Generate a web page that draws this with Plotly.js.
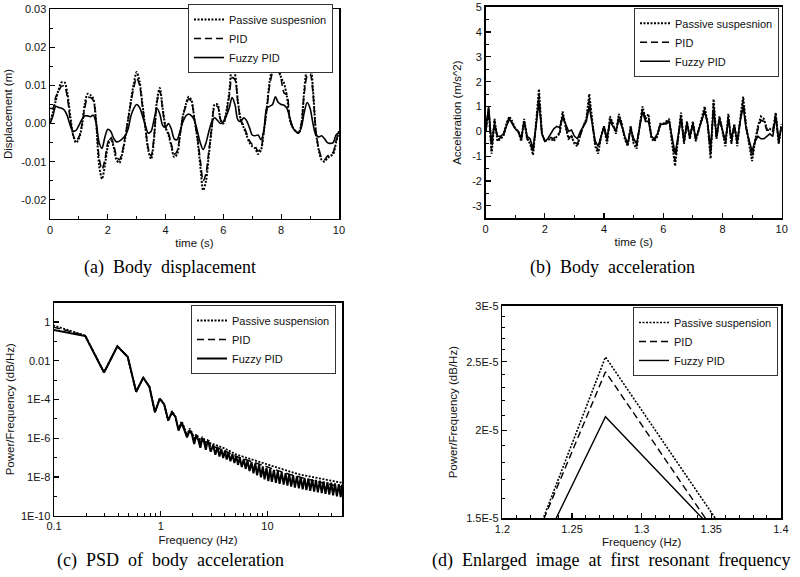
<!DOCTYPE html>
<html>
<head>
<meta charset="utf-8">
<script src="https://cdn.plot.ly/plotly-3.0.1.min.js"></script>
<style>html,body{margin:0;padding:0;background:#fff;}#chart{width:800px;height:577px;}</style>
</head>
<body>
<div id="chart"></div>
<script>
// ---------- data ----------
const seriesNames = ["Passive suspesnion", "PID", "Fuzzy PID"];
const seriesNamesPSD = ["Passive suspension", "PID", "Fuzzy PID"];

const timeS = [0,0.1,0.2,0.3,0.4,0.5,0.6,0.7,0.8,0.9,1,1.1,1.2,1.3,1.4,1.5,1.6,1.7,1.8,1.9,2,2.1,2.2,2.3,2.4,2.5,2.6,2.7,2.8,2.9,3,3.1,3.2,3.3,3.4,3.5,3.6,3.7,3.8,3.9,4,4.1,4.2,4.3,4.4,4.5,4.6,4.7,4.8,4.9,5,5.1,5.2,5.3,5.4,5.5,5.6,5.7,5.8,5.9,6,6.1,6.2,6.3,6.4,6.5,6.6,6.7,6.8,6.9,7,7.1,7.2,7.3,7.4,7.5,7.6,7.7,7.8,7.9,8,8.1,8.2,8.3,8.4,8.5,8.6,8.7,8.8,8.9,9,9.1,9.2,9.3,9.4,9.5,9.6,9.7,9.8,9.9,10];

const dispPassive = [0.000,0.003,0.006,0.009,0.0108,0.0108,0.008,0.002,-0.003,-0.005,
 -0.004,-0.001,0.005,0.0078,0.0075,0.0065,0.000,-0.011,-0.0145,-0.011,
 -0.006,-0.004,-0.006,-0.0095,-0.0103,-0.008,-0.004,0.001,0.006,0.0105,
 0.0135,0.011,0.005,-0.001,-0.007,-0.0093,-0.004,0.006,0.0093,0.004,
 -0.001,-0.003,-0.006,-0.0088,-0.008,-0.003,0.002,0.005,0.007,0.006,
 0.001,-0.004,-0.011,-0.0175,-0.015,-0.008,-0.001,0.005,0.005,0.001,
 0.000,0.003,0.008,0.0148,0.013,0.006,0.001,-0.001,-0.003,-0.005,
 -0.006,-0.0065,-0.008,-0.007,-0.002,0.004,0.011,0.015,0.0178,0.0155,
 0.012,0.0105,0.007,0.001,-0.001,-0.002,-0.0025,0.000,0.009,0.015,
 0.0165,0.009,-0.002,-0.007,-0.0095,-0.010,-0.009,-0.0085,-0.008,-0.005,
 -0.002];
const dispPID = [0.004,0.004,0.007,0.0085,0.0098,0.0098,0.007,0.001,-0.003,-0.0045,
 -0.0035,-0.0005,0.004,0.0068,0.0068,0.006,0.000,-0.009,-0.012,-0.0095,
 -0.005,-0.0035,-0.0055,-0.0085,-0.0095,-0.0075,-0.0035,0.001,0.0055,0.0095,
 0.012,0.010,0.0045,-0.001,-0.0065,-0.0085,-0.0035,0.0055,0.0085,0.0035,
 -0.001,-0.0025,-0.0055,-0.008,-0.0072,-0.0028,0.002,0.0045,0.0065,0.0055,
 0.001,-0.0035,-0.0095,-0.015,-0.013,-0.007,-0.001,0.0045,0.0045,0.001,
 0.000,0.0028,0.007,0.012,0.0115,0.0055,0.001,-0.0005,-0.0025,-0.0045,
 -0.0055,-0.006,-0.0072,-0.0065,-0.002,0.0035,0.010,0.0135,0.0155,0.014,
 0.0115,0.008,0.0075,0.001,-0.001,-0.002,-0.0025,0.000,0.008,0.0125,
 0.013,0.008,-0.002,-0.0065,-0.009,-0.0095,-0.0085,-0.008,-0.0075,-0.0045,
 -0.002];
const dispFuzzy = [0.000,0.002,0.0045,0.0042,0.004,0.0035,0.002,-0.0005,-0.002,-0.0018,
 -0.0005,0.001,0.002,0.002,0.0018,0.0022,0.000,-0.005,-0.0065,-0.0035,
 -0.0015,-0.002,-0.0038,-0.0048,-0.0046,-0.004,-0.0032,-0.0015,0.002,0.004,
 0.005,0.0042,0.002,-0.0005,-0.0025,-0.002,0.001,0.004,0.0025,-0.0005,
 -0.001,0.000,-0.0015,-0.004,-0.0042,-0.002,0.0005,0.002,0.0025,0.002,
 0.0008,-0.002,-0.005,-0.0068,-0.005,-0.002,0.0005,0.0015,0.0008,0.000,
 0.0005,0.002,0.004,0.0068,0.005,0.001,0.0005,0.0015,0.0008,-0.001,
 -0.003,-0.0032,-0.003,-0.0042,-0.002,0.004,0.0045,0.005,0.007,0.0055,
 0.005,0.0048,0.004,0.0015,-0.001,-0.002,-0.0025,-0.001,0.003,0.0055,
 0.004,0.000,-0.003,-0.0035,-0.0032,-0.004,-0.005,-0.0052,-0.005,-0.003,
 -0.0025];

const accPassive = [0.0,0.9,-0.9,0.5,-0.4,-0.3,-0.2,0.3,0.6,0.4,
 0.1,0.0,-0.4,0.5,-0.3,-0.5,-0.95,0.3,1.7,-0.1,
 -0.4,-0.35,-0.3,-0.4,-0.2,-0.1,0.8,0.2,-0.3,-0.2,
 -0.5,-0.6,-0.1,0.2,0.5,1.5,0.3,-0.6,-0.9,-0.2,
 0.2,-0.5,0.6,0.3,-0.1,0.7,0.3,-0.3,-0.6,0.2,
 -0.5,-0.7,0.2,1.0,0.5,0.7,-0.3,-0.4,-0.2,0.3,
 0.3,0.4,0.5,-0.5,-1.4,-0.3,0.75,-0.5,0.4,-0.3,
 0.4,-0.4,0.1,0.6,1.0,0.3,-1.1,1.3,-0.3,0.6,
 0.0,-0.6,0.7,-0.5,0.3,-0.6,0.5,1.4,0.2,-0.5,
 -1.2,-0.4,0.2,0.6,0.5,0.1,0.1,0.0,0.75,-0.5,
 0.3];
const accPID = [0.0,0.8,-0.8,0.45,-0.35,-0.25,-0.2,0.3,0.55,0.35,
 0.1,0.0,-0.35,0.45,-0.3,-0.45,-0.85,0.25,1.5,-0.1,
 -0.4,-0.35,-0.25,-0.3,-0.15,-0.05,0.7,0.2,-0.25,-0.2,
 -0.45,-0.5,-0.1,0.2,0.45,1.3,0.3,-0.5,-0.8,-0.2,
 0.2,-0.4,0.5,0.3,0.0,0.6,0.3,-0.3,-0.55,0.2,
 -0.45,-0.6,0.2,0.9,0.5,0.6,-0.25,-0.35,-0.15,0.3,
 0.3,0.35,0.45,-0.4,-1.2,-0.3,0.65,-0.45,0.35,-0.3,
 0.35,-0.35,0.1,0.55,0.9,0.3,-0.95,1.15,-0.3,0.55,
 0.0,-0.5,0.6,-0.45,0.3,-0.5,0.45,1.25,0.2,-0.45,
 -1.05,-0.4,0.1,0.45,0.4,0.05,0.05,0.0,0.7,-0.45,
 0.25];
const accFuzzy = [0.0,1.0,-0.5,0.3,-0.2,-0.2,-0.1,0.2,0.5,0.3,
 0.1,0.0,-0.3,0.4,-0.2,-0.3,-0.7,0.2,1.2,-0.1,
 -0.4,-0.3,-0.1,0.1,0.2,0.15,0.6,0.3,0.0,0.05,
 -0.2,-0.3,0.0,0.2,0.4,1.0,0.3,-0.4,-0.6,-0.2,
 0.2,-0.3,0.4,0.2,0.0,0.5,0.2,-0.2,-0.5,0.1,
 -0.3,-0.5,0.2,0.8,0.4,0.4,-0.2,-0.3,-0.1,0.25,
 0.3,0.3,0.4,-0.3,-0.9,-0.2,0.5,-0.4,0.3,-0.2,
 0.3,-0.3,0.1,0.5,0.8,0.3,-0.7,0.9,-0.2,0.5,
 0.0,-0.4,0.5,-0.3,0.2,-0.4,0.4,1.0,0.1,-0.4,
 -0.8,-0.4,-0.2,-0.3,-0.3,-0.2,-0.1,-0.2,0.6,-0.4,
 0.2];

// PSD (low-frequency bins, shared)
const psdFreqLow = [0.098,0.196,0.294,0.392,0.49,0.588,0.686,0.784,0.882,0.98,1.078,1.176,1.274,1.372,1.47,1.568,1.666,1.764,1.862,1.96,2.058,2.156,2.254,2.352,2.45,2.548,2.646,2.744,2.842,2.94];
const psdPassiveLow = [0.68,0.2,2.5e-3,0.056,0.016,2.5e-4,1.35e-3,4.5e-4,2.2e-5,1.12e-4,5.6e-5,8.0e-6,2.54e-5,1.32e-5,2.8e-6,7.6e-6,3.5e-6,1.4e-6,3.2e-6,2.0e-6,1.0e-6,1.6e-6,1.1e-6,8.0e-7,1.1e-6,9.0e-7,6.3e-7,8.0e-7,7.1e-7,5.2e-7];
const psdPIDLow = [0.56,0.2,2.5e-3,0.056,0.016,2.5e-4,1.35e-3,4.5e-4,2.2e-5,1.12e-4,5.6e-5,8.35e-6,2.42e-5,1.26e-5,2.7e-6,7.1e-6,3.2e-6,1.26e-6,2.8e-6,1.8e-6,7.9e-7,1.5e-6,1.0e-6,5.6e-7,1.05e-6,7.9e-7,4.5e-7,7.6e-7,6.0e-7,3.5e-7];
const psdFuzzyLow = [0.4,0.19,2.5e-3,0.056,0.016,2.5e-4,1.35e-3,4.5e-4,2.2e-5,1.12e-4,5.6e-5,8.35e-6,2.09e-5,1.31e-5,2.5e-6,6.0e-6,2.6e-6,1.1e-6,2.5e-6,1.6e-6,5.0e-7,1.4e-6,7.9e-7,3.2e-7,1.0e-6,6.3e-7,2.5e-7,7.1e-7,4.5e-7,2.0e-7];
// PSD high-frequency part
const psdFreqSmooth = [3.1,4,5,6.5,8,10,13,16,20,25,31,40,50];
const psdPassiveHigh = [5.0e-7,2.95e-7,1.5e-7,9.3e-8,6.3e-8,4.3e-8,2.75e-8,1.95e-8,1.35e-8,1.05e-8,8.3e-9,6.3e-9,5.0e-9];
const psdPIDHigh = [3.8e-7,2.2e-7,1.2e-7,7.2e-8,4.8e-8,3.2e-8,2.0e-8,1.38e-8,9.5e-9,7.1e-9,5.4e-9,3.8e-9,3.0e-9];
const psdFreqFuzzyHigh = [3.1,3.25,3.4,3.55,3.7,3.85,4.0,4.15,4.3,4.5,4.7,4.9,5.1,5.3,5.5,5.75,6.0,6.25,6.5,6.8,7.1,7.4,7.7,8.0,8.35,8.7,9.05,9.4,9.8,10.2,10.6,11.0,11.5,12.0,12.5,13.0,13.6,14.2,14.8,15.4,16.0,16.7,17.4,18.1,18.9,19.7,20.5,21.4,22.3,23.2,24.2,25.2,26.3,27.4,28.5,29.7,31.0,32.3,33.6,35.0,36.5,38.0,39.6,41.3,43.0,44.8,46.7,48.6,50.0];
const psdFuzzyHigh = [4.5e-7,1.4e-7,3.5e-7,1.15e-7,2.8e-7,9.4e-8,2.3e-7,7.9e-8,1.9e-7,6.5e-8,1.5e-7,5.3e-8,1.2e-7,4.2e-8,1.03e-7,3.3e-8,8.5e-8,2.6e-8,7.1e-8,2.0e-8,5.9e-8,1.55e-8,5.0e-8,1.23e-8,4.2e-8,9.5e-9,3.5e-8,7.6e-9,2.95e-8,6.1e-9,2.6e-8,5.6e-9,2.3e-8,4.95e-9,2.0e-8,4.45e-9,1.78e-8,4.0e-9,1.58e-8,3.55e-9,1.4e-8,3.2e-9,1.23e-8,2.85e-9,1.09e-8,2.57e-9,9.75e-9,2.33e-9,8.97e-9,2.13e-9,8.26e-9,1.94e-9,7.6e-9,1.76e-9,7.0e-9,1.61e-9,6.45e-9,1.46e-9,5.94e-9,1.33e-9,5.47e-9,1.22e-9,5.04e-9,1.11e-9,4.64e-9,1.01e-9,4.27e-9,9.2e-10,4.0e-9];

// tick labels
const dispTicks = [-0.02,-0.01,0,0.01,0.02,0.03];
const dispTickText = ["-0.02","-0.01","0.00","0.01","0.02","0.03"];
const accTicks = [-3,-2,-1,0,1,2,3,4,5];
const accTickText = ["-3","-2","-1","0","1","2","3","4","5"];
const timeTicks = [0,2,4,6,8,10];
const psdFreqTicks = [0.1,1,10];
const psdFreqTickText = ["0.1","1","10"];
const psdTicks = [1e-10,1e-8,1e-6,1e-4,0.01,1];
const psdTickText = ["1E-10","1E-8","1E-6","1E-4","0.01","1"];
const zoomFreqTicks = [1.2,1.25,1.3,1.35,1.4];
const zoomFreqTickText = ["1.2","1.25","1.3","1.35","1.4"];
const zoomPsdTicks = [1.5e-5,2e-5,2.5e-5,3e-5];
const zoomPsdTickText = ["1.5E-5","2E-5","2.5E-5","3E-5"];
const zoomPsdMinor = [1.6e-5,1.7e-5,1.8e-5,1.9e-5,2.1e-5,2.2e-5,2.3e-5,2.4e-5,2.6e-5,2.7e-5,2.8e-5,2.9e-5];
const psdFreqMinor = [0.2,0.3,0.4,0.5,0.6,0.7,0.8,0.9,2,3,4,5,6,7,8,9,20,30,40,50];
const psdMinor = [1e-9,1e-7,1e-5,1e-3,0.1,10];

// ---------- styles ----------
const FONT = "Liberation Sans, Arial, sans-serif";
const styles = [
  {color:"#000", width:2, dash:"2px,1.5px"},
  {color:"#000", width:1.6, dash:"7px,4px"},
  {color:"#000", width:1.6, dash:"solid"}
];

const traces = [];
function add(x, y, i, xa, ya, leg, names, shape, width) {
  const line = Object.assign({}, styles[i]);
  if (shape) { line.shape = shape; line.smoothing = 0.8; }
  if (width) line.width = width;
  traces.push({
    type:"scatter", mode:"lines", x:x, y:y, name:names[i],
    xaxis:xa, yaxis:ya, legend:leg, showlegend:true,
    line:line, hoverinfo:"skip"
  });
}
const dispSeries = [dispPassive, dispPID, dispFuzzy];
const accSeries = [accPassive, accPID, accFuzzy];
dispSeries.forEach((s,i)=>add(timeS, s, i, "x", "y", "legend", seriesNames, "spline"));
accSeries.forEach((s,i)=>add(timeS, s, i, "x2", "y2", "legend2", seriesNames, null));

const psdX = [psdFreqLow.concat(psdFreqSmooth), psdFreqLow.concat(psdFreqSmooth), psdFreqLow.concat(psdFreqFuzzyHigh)];
const psdY = [psdPassiveLow.concat(psdPassiveHigh), psdPIDLow.concat(psdPIDHigh), psdFuzzyLow.concat(psdFuzzyHigh)];
const psdWidths = [1.8, 1.5, 2.0];
const zoomWidths = [1.6, 1.4, 1.4];
psdY.forEach((s,i)=>add(psdX[i], s, i, "x3", "y3", "legend3", seriesNamesPSD, null, psdWidths[i]));
psdY.forEach((s,i)=>add(psdX[i], s, i, "x4", "y4", "legend4", seriesNamesPSD, null, zoomWidths[i]));

// ---------- axes ----------
const tickFont = {family:FONT, size:11, color:"#111"};
const titleFont = {family:FONT, size:11.5, color:"#111"};
function minorTicks(o) {
  return Object.assign({ticks:"inside", ticklen:3, tickwidth:1, tickcolor:"#000", showgrid:false}, o);
}
function axis(o) {
  return Object.assign({
    showline:true, mirror:true, linecolor:"#000", linewidth:1.5,
    ticks:"inside", ticklen:5, tickwidth:1.2, tickcolor:"#000",
    showgrid:false, zeroline:false, tickfont:tickFont, fixedrange:true,
    ticklabeloverflow:"allow"
  }, o);
}

function legend(x, y) {
  return {x:x, y:y, xanchor:"right", yanchor:"top", bgcolor:"#fff",
    bordercolor:"#333", borderwidth:1, font:{family:FONT, size:11, color:"#111"},
    tracegroupgap:0, itemwidth:30};
}

function caption(text, x, y, anchor) {
  return {xref:"paper", yref:"paper", x:x, y:y, xanchor:anchor||"center", yanchor:"middle",
    showarrow:false, text:text, font:{family:"Liberation Serif, Times New Roman, serif", size:18, color:"#000"}};
}

const layout = {
  width:800, height:577, margin:{l:0,r:0,t:0,b:0},
  paper_bgcolor:"#fff", plot_bgcolor:"#fff", showlegend:true,
  xaxis: axis({domain:[0.0625,0.42375], anchor:"y", range:[0,10.001], tickmode:"array", tickvals:timeTicks,
    minor:minorTicks({dtick:1, tick0:0}),
    title:{text:"time (s)", font:titleFont, standoff:4}}),
  yaxis: axis({domain:[0.6205,0.9844], anchor:"x", range:[-0.025,0.03001], tickmode:"array", tickvals:dispTicks, ticktext:dispTickText,
    minor:minorTicks({dtick:0.005, tick0:0}),
    title:{text:"Displacement (m)", font:titleFont, standoff:6}}),
  xaxis2: axis({domain:[0.6071,0.9771], anchor:"y2", range:[0,10.001], tickmode:"array", tickvals:timeTicks,
    minor:minorTicks({dtick:1, tick0:0}),
    title:{text:"time (s)", font:titleFont, standoff:4}}),
  yaxis2: axis({domain:[0.6217,0.9879], anchor:"x2", range:[-3.5,5.005], tickmode:"array", tickvals:accTicks, ticktext:accTickText,
    minor:minorTicks({dtick:0.5, tick0:0}),
    title:{text:"Acceleration (m/s^2)", font:titleFont, standoff:8}}),
  xaxis3: axis({domain:[0.0675,0.4275], anchor:"y3", type:"log", range:[-1.0005,1.699], tickmode:"array", tickvals:psdFreqTicks, ticktext:psdFreqTickText,
    minor:minorTicks({tickmode:"array", tickvals:psdFreqMinor}),
    title:{text:"Frequency (Hz)", font:titleFont, standoff:4}}),
  yaxis3: axis({domain:[0.1062,0.4754], anchor:"x3", type:"log", range:[-10.001,1], tickmode:"array", tickvals:psdTicks, ticktext:psdTickText,
    minor:minorTicks({tickmode:"array", tickvals:psdMinor}),
    title:{text:"Power/Frequency (dB/Hz)", font:titleFont, standoff:4}}),
  xaxis4: axis({domain:[0.6279,0.97625], anchor:"y4", range:[1.1999,1.4001], tickmode:"array", tickvals:zoomFreqTicks, ticktext:zoomFreqTickText,
    minor:minorTicks({dtick:0.01, tick0:1.2}),
    title:{text:"Frequency (Hz)", font:titleFont, standoff:4}}),
  yaxis4: axis({domain:[0.1017,0.4697], anchor:"x4", type:"log", range:[-4.8240,-4.5228], tickmode:"array", tickvals:zoomPsdTicks, ticktext:zoomPsdTickText,
    minor:minorTicks({tickmode:"array", tickvals:zoomPsdMinor}),
    title:{text:"Power/Frequency (dB/Hz)", font:titleFont, standoff:6}}),
  legend: legend(0.41625, 0.993),
  legend2: legend(0.97375, 0.9866),
  legend3: legend(0.42, 0.4714),
  legend4: legend(0.9725, 0.468),
  annotations: [
    caption("(a)\u00a0\u00a0Body\u00a0\u00a0displacement", 0.2125, 1-267/577),
    caption("(b)\u00a0\u00a0Body\u00a0\u00a0acceleration", 0.766, 1-267/577),
    caption("(c)\u00a0\u00a0PSD\u00a0\u00a0of\u00a0\u00a0body\u00a0\u00a0acceleration", 0.2125, 1-560/577),
    caption("(d)\u00a0\u00a0Enlarged\u00a0\u00a0image\u00a0\u00a0at\u00a0\u00a0first\u00a0\u00a0resonant\u00a0\u00a0frequency", 0.5375, 1-560/577, "left")
  ]
};

Plotly.newPlot("chart", traces, layout, {displayModeBar:false, staticPlot:true});
</script>
</body>
</html>
